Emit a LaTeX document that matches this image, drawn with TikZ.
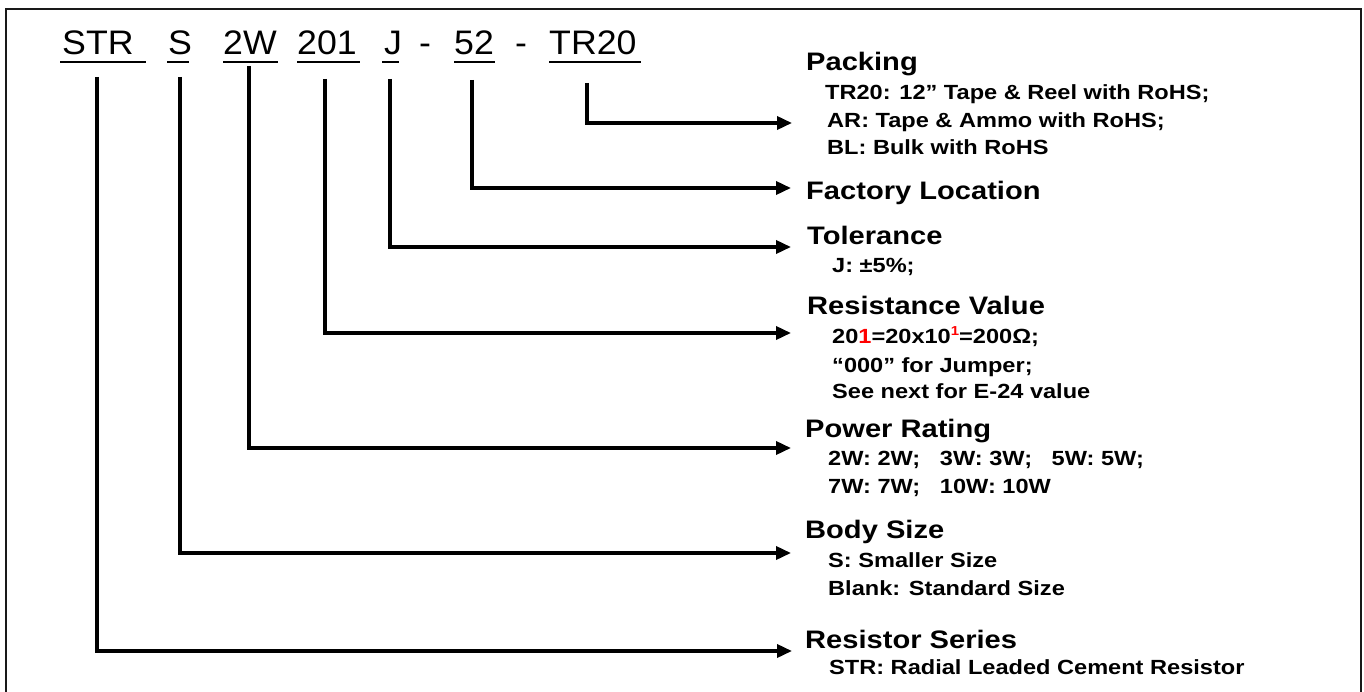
\documentclass[tikz,border=0pt]{standalone}
\usepackage{fontspec}
\setmainfont{Liberation Sans}[FakeStretch=1.15]
\newfontfamily\hdrfont{Liberation Sans}[FakeStretch=1.05]
\usetikzlibrary{arrows.meta}
\begin{document}
\begin{tikzpicture}[x=1pt,y=-1pt,
  hdr/.style={anchor=base west, inner sep=0pt, font=\hdrfont\fontsize{34}{40}\selectfont},
  ttl/.style={anchor=base west, inner sep=0pt, font=\bfseries\fontsize{25.3}{30}\selectfont},
  sub/.style={anchor=base west, inner sep=0pt, font=\bfseries\fontsize{20.5}{24}\selectfont},
  conn/.style={line width=3.5pt, -{Triangle[length=15pt,width=13pt]}},
  uline/.style={line width=2.5pt},
  frame/.style={line width=2pt, draw=black!90}
]
\useasboundingbox (0,0) rectangle (1364,692);
\draw[frame] (6,692) -- (6,9) -- (1361,9) -- (1361,692);

% header tokens
\node[hdr] (hSTR) at (62,55) {STR};
\node[hdr] (hS) at (168,55) {S};
\node[hdr] (h2W) at (223,55) {2W};
\node[hdr] (h201) at (297,55) {201};
\node[hdr] (hJ) at (384,55) {J};
\node[hdr] (hd1) at (419,55) {-};
\node[hdr] (h52) at (454,55) {52};
\node[hdr] (hd2) at (515,55) {-};
\node[hdr] (hTR) at (549,55) {TR20};
\draw[uline] (60,62) -- (146,62);
\draw[uline] (167,62) -- (189,62);
\draw[uline] (223,62) -- (278,62);
\draw[uline] (297,62) -- (360,62);
\draw[uline] (382,62) -- (399,62);
\draw[uline] (454,62) -- (495,62);
\draw[uline] (549,62) -- (641,62);

% titles and descriptions
\node[ttl] (tPack) at (806,71) {Packing};
\node[sub] (sPack1) at (825,100) {TR20: 12” Tape \& Reel with RoHS;};
\node[sub] (sPack2) at (827,128) {AR: Tape \& Ammo with RoHS;};
\node[sub] (sPack3) at (827,155) {BL: Bulk with RoHS};
\node[ttl] (tFact) at (806,200) {Factory Location};
\node[ttl] (tTol) at (807,245) {Tolerance};
\node[sub] (sTol1) at (832,273) {J: ±5\%;};
\node[ttl] (tRes) at (807,315) {Resistance Value};
\node[sub] (sRes1) at (832,343) {20\textcolor{red}{1}=20x10\raisebox{8pt}{\fontsize{13}{13}\selectfont\textcolor{red}{1}}=200Ω;};
\node[sub] (sRes2) at (832,372) {“000” for Jumper;};
\node[sub] (sRes3) at (832,398) {See next for E-24 value};
\node[ttl] (tPow) at (805,437) {Power Rating};
\node[sub] (sPow1) at (828,465) {2W: 2W;\ \ \ 3W: 3W;\ \ \ 5W: 5W;};
\node[sub] (sPow2) at (828,493) {7W: 7W;\ \ \ 10W: 10W};
\node[ttl] (tBody) at (805,538) {Body Size};
\node[sub] (sBody1) at (828,567) {S: Smaller Size};
\node[sub] (sBody2) at (828,595) {Blank: Standard Size};
\node[ttl] (tSer) at (805,648) {Resistor Series};
\node[sub] (sSer1) at (829,674) {STR: Radial Leaded Cement Resistor};

% connector ends
\coordinate (aSTR) at (97,77);
\coordinate (aS) at (180,77);
\coordinate (a2W) at (249,66);
\coordinate (a201) at (325,79);
\coordinate (aJ) at (390,79);
\coordinate (a52) at (472,80);
\coordinate (aTR) at (587,83);
\coordinate (ePack) at (792,123);
\coordinate (eFact) at (791,188);
\coordinate (eTol) at (791,247);
\coordinate (eRes) at (791,333);
\coordinate (ePow) at (791,448);
\coordinate (eBody) at (791,553);
\coordinate (eSer) at (792,651);

\draw[conn] (aTR) |- (ePack);
\draw[conn] (a52) |- (eFact);
\draw[conn] (aJ) |- (eTol);
\draw[conn] (a201) |- (eRes);
\draw[conn] (a2W) |- (ePow);
\draw[conn] (aS) |- (eBody);
\draw[conn] (aSTR) |- (eSer);
\end{tikzpicture}
\end{document}
